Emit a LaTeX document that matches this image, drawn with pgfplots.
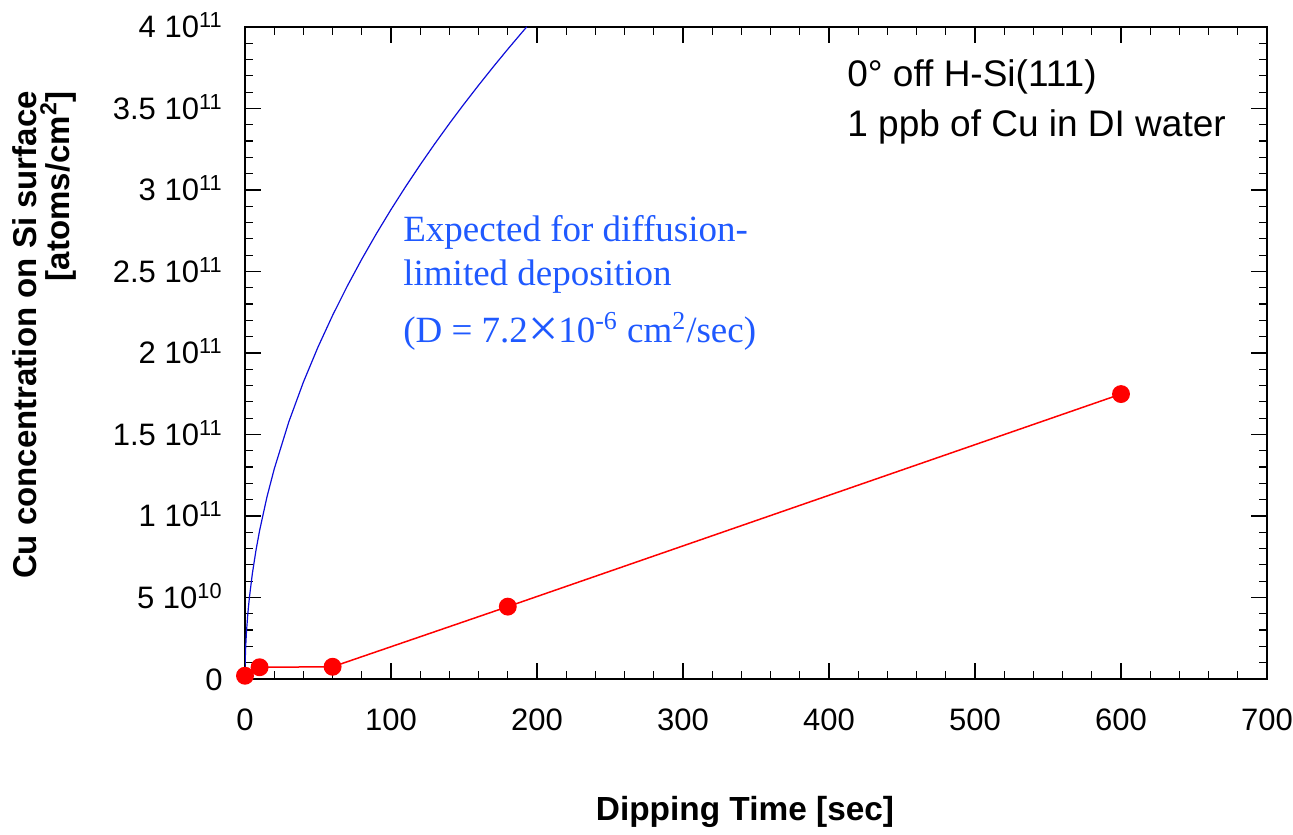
\documentclass[border=0pt]{standalone}
\usepackage{pgfplots}
\pgfplotsset{compat=1.18}
\usepackage{graphicx}
\usepackage{fontspec}
\setmainfont{Liberation Sans}
\newfontfamily\serifblue{Liberation Serif}
\definecolor{curveblue}{rgb}{0.05,0.05,0.85}
\definecolor{textblue}{rgb}{0.12,0.35,1.0}
\begin{document}
\begin{tikzpicture}
\begin{axis}[
  scale only axis,
  width=511pt, height=326pt,
  xmin=0, xmax=700, ymin=0, ymax=4,
  xtick={0,100,...,700},
  ytick={0,0.5,1,1.5,2,2.5,3,3.5,4},
  yticklabels={0, 5 10\textsuperscript{10}, 1 10\textsuperscript{11}, 1.5 10\textsuperscript{11}, 2 10\textsuperscript{11}, 2.5 10\textsuperscript{11}, 3 10\textsuperscript{11}, 3.5 10\textsuperscript{11}, 4 10\textsuperscript{11}},
  minor x tick num=4, minor y tick num=4,
  tick align=inside, ticks=both,
  xtick pos=both, ytick pos=both,
  major tick length=8pt, minor tick length=4pt,
  every tick/.style={black, line width=0.6pt},
  axis line style={line width=0.7pt},
  /pgf/number format/assume math mode=true,
  tick label style={font=\fontsize{15.5}{18}\selectfont, inner sep=0pt},
  yticklabel style={anchor=base east, yshift=-5.5pt, xshift=-11pt},
  xticklabel style={anchor=north, yshift=-14.5pt},
  clip=true,
]
\addplot[curveblue, line width=0.6pt] coordinates {
 (0,0) (0.01,0.0288) (0.05,0.0644) (0.1,0.0911) (0.2,0.1288) (0.5,0.2036)
 (1,0.288) (2,0.4073) (3,0.4988) (5,0.6440) (7.5,0.7887) (10,0.9107)
 (15,1.1154) (20,1.2880) (30,1.5774) (40,1.8215) (50,2.0365) (60,2.2308)
 (70,2.4096) (80,2.5759) (90,2.7322) (100,2.880) (110,3.0205) (120,3.1549)
 (130,3.2838) (140,3.4077) (150,3.5272) (160,3.6428) (170,3.7551) (180,3.8640)
 (190,3.9698) (193,4.0010)
};
\addplot[red, line width=0.75pt, mark=*, mark size=4.1pt, mark options={fill=red, draw=red}] coordinates {
 (0,0.02) (10,0.072) (60,0.075) (180,0.444) (600,1.748)
};
\node[anchor=base west, inner sep=0pt, font=\fontsize{18.5}{22}\selectfont] at (axis cs:412.3,3.634) {0° off H-Si(111)};
\node[anchor=base west, inner sep=0pt, font=\fontsize{18.5}{22}\selectfont] at (axis cs:412.3,3.331) {1 ppb of Cu in DI water};
\node[anchor=base west, inner sep=0pt, text=textblue, font=\serifblue\fontsize{18.5}{22}\selectfont] at (axis cs:108.2,2.681) {Expected for diffusion-};
\node[anchor=base west, inner sep=0pt, text=textblue, font=\serifblue\fontsize{18.5}{22}\selectfont] at (axis cs:108.2,2.417) {limited deposition};
\node[anchor=base west, inner sep=0pt, text=textblue, font=\serifblue\fontsize{18.5}{22}\selectfont] at (axis cs:108.2,2.067) {(D = 7.2\raisebox{-0.12em}{\scalebox{1.45}{×}}10\textsuperscript{-6} cm\textsuperscript{2}/sec)};
\end{axis}
\node[font=\bfseries\fontsize{16.7}{19}\selectfont, inner sep=0pt, anchor=center] at ([xshift=-5.5pt,yshift=-66.5pt]current axis.south) {Dipping Time [sec]};
\node[font=\bfseries\fontsize{16.5}{16.5}\selectfont, inner sep=0pt, rotate=90, align=right, anchor=center] at ([xshift=-100.5pt,yshift=9pt]current axis.west) {Cu concentration on Si surface\\{}[atoms/cm\textsuperscript{2}]};
\path ([xshift=-122.5pt,yshift=-77.5pt]current axis.south west) rectangle ([xshift=13pt,yshift=13.5pt]current axis.north east);
\end{tikzpicture}
\end{document}
